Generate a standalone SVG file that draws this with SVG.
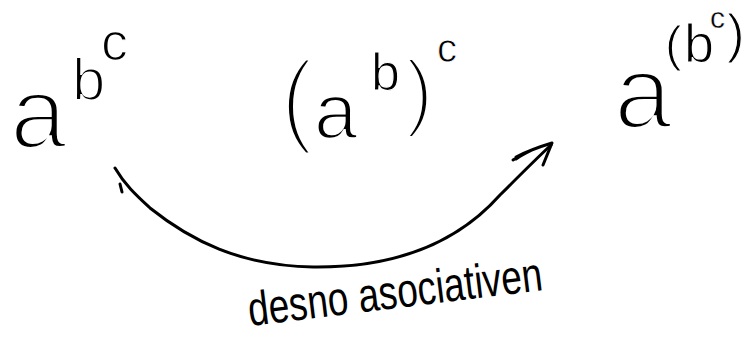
<svg xmlns="http://www.w3.org/2000/svg" width="745" height="337" viewBox="0 0 745 337">
  <defs>
    <style>
      .t { font-family: "Liberation Sans", "DejaVu Sans", sans-serif; fill: #000; stroke: #fff; }
      .conn { fill: none; stroke: #000; stroke-width: 3; stroke-linecap: round; stroke-linejoin: round; }
    </style>
  </defs>
  <rect width="745" height="337" fill="#fff"/>

  <g id="node-a-bc">
    <text class="t" x="10" y="148" font-size="102" stroke-width="4">a</text>
    <text class="t" x="72" y="100" font-size="60" stroke-width="2">b</text>
    <text class="t" x="101" y="60" font-size="54" stroke-width="1.5">c</text>
  </g>

  <g id="node-ab-c">
    <text class="t" x="280" y="133" font-size="103" stroke-width="5">(</text>
    <text class="t" x="314" y="138" font-size="78" stroke-width="2.5">a</text>
    <text class="t" x="371" y="90" font-size="52" stroke-width="1.2">b</text>
    <text class="t" x="405" y="120" font-size="86" stroke-width="4">)</text>
    <text class="t" x="437" y="62" font-size="40" stroke-width="0.8">c</text>
  </g>

  <g id="node-a-paren-bc">
    <text class="t" x="614" y="128" font-size="104" stroke-width="4">a</text>
    <text class="t" x="665" y="61" font-size="50" stroke-width="1.2">(</text>
    <text class="t" x="684" y="62" font-size="54" stroke-width="1.2">b</text>
    <text class="t" x="710" y="28" font-size="30" stroke-width="0.4">c</text>
    <text class="t" x="727" y="52" font-size="53" stroke-width="1.2">)</text>
  </g>

  <g id="connectors">
    <path class="conn" d="M115,168 C125,185 136,195 150,208 C190,240 240,266 313,267 C400,268 460,240 500,195 C520,175 535,160 551,145"/>
    <path class="conn" d="M120,184 L122,192"/>
    <path class="conn" d="M513,160 C522,154 528,152 532,150 C526,153 520,156 516,159 M516,157 C530,150 542,146 552,143 L543,165"/>
  </g>

  <g id="label">
    <text x="250" y="326" font-family="'Liberation Sans', 'DejaVu Sans', sans-serif" font-size="48" textLength="296" lengthAdjust="spacingAndGlyphs" transform="rotate(-7 250 326)">desno asociativen</text>
  </g>
</svg>
